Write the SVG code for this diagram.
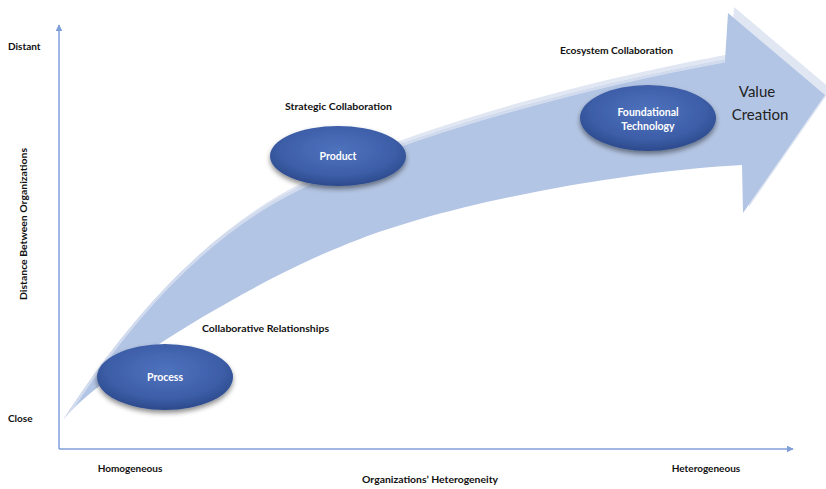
<svg xmlns="http://www.w3.org/2000/svg" width="826" height="489" viewBox="0 0 826 489">
<style>
.lbl{font-family:Lato,"Liberation Sans",sans-serif;font-weight:bold;font-size:10px;fill:#111}
.nd{font-family:Lato,"Liberation Sans",sans-serif;font-weight:bold;font-size:10.5px;fill:#fff}
.big{font-family:Lato,"Liberation Sans",sans-serif;font-size:15px;fill:#222}
.axis{stroke:#7f9fd8;stroke-width:1.5;fill:none}
</style>
<defs>
<radialGradient id="eg" cx="0.5" cy="0.4" r="0.6">
<stop offset="0" stop-color="#4f72bd"/>
<stop offset="0.7" stop-color="#3d5ea8"/>
<stop offset="1" stop-color="#2c4a8c"/>
</radialGradient>
<filter id="sh" x="-20%" y="-20%" width="140%" height="150%">
<feDropShadow dx="0" dy="3" stdDeviation="2.5" flood-color="#000" flood-opacity="0.45"/>
</filter>
<path id="arrowShape" d="M63,420 C125,325 200,235 300,187 C406,131 607,81 725,60 L728,13 L825,95 L743,213 L742,165 C640,170 450,200 340,247 C256,280 100,373 63,420 Z"/>
<clipPath id="ac"><use href="#arrowShape"/></clipPath>
<marker id="ah" viewBox="0 0 10 10" refX="9" refY="5" markerWidth="7" markerHeight="7" orient="auto" markerUnits="userSpaceOnUse">
<path d="M0,0 L10,5 L0,10 Z" fill="#7f9fd8"/>
</marker>
</defs>
<rect width="826" height="489" fill="#fff"/>
<g id="connectors">
<line class="axis" x1="59" y1="449" x2="59" y2="25" marker-end="url(#ah)"/>
<line class="axis" x1="59" y1="449" x2="793" y2="449" marker-end="url(#ah)"/>
</g>
<g id="big-arrow">
<use href="#arrowShape" transform="translate(6,-6)" fill="#e0e7f3"/>
<use href="#arrowShape" fill="#b3c5e4"/>
<path d="M63,420 C125,325 200,235 300,187 C406,131 607,81 725,60" fill="none" stroke="#d2dcee" stroke-width="5" clip-path="url(#ac)"/>
<text class="big" x="757" y="97" text-anchor="middle">Value</text>
<text class="big" x="760" y="120" text-anchor="middle">Creation</text>
</g>
<g id="axis-labels">
<text class="lbl" x="8" y="50">Distant</text>
<text class="lbl" x="8" y="422">Close</text>
<text class="lbl" x="130" y="472" text-anchor="middle">Homogeneous</text>
<text class="lbl" x="706" y="472" text-anchor="middle">Heterogeneous</text>
<text class="lbl" x="430" y="483" text-anchor="middle" textLength="136" lengthAdjust="spacingAndGlyphs">Organizations’ Heterogeneity</text>
<text class="lbl" transform="translate(27,224) rotate(-90)" text-anchor="middle" textLength="152" lengthAdjust="spacingAndGlyphs">Distance Between Organizations</text>
</g>
<g id="node-process">
<ellipse cx="165" cy="377" rx="68" ry="33" fill="url(#eg)" filter="url(#sh)"/>
<text class="nd" x="165" y="381" text-anchor="middle">Process</text>
<text class="lbl" x="202" y="332" textLength="127" lengthAdjust="spacingAndGlyphs">Collaborative Relationships</text>
</g>
<g id="node-product">
<ellipse cx="338" cy="156" rx="68" ry="30" fill="url(#eg)" filter="url(#sh)"/>
<text class="nd" x="338" y="160" text-anchor="middle">Product</text>
<text class="lbl" x="285" y="110" textLength="107" lengthAdjust="spacingAndGlyphs">Strategic Collaboration</text>
</g>
<g id="node-foundational">
<ellipse cx="648" cy="118" rx="68" ry="33" fill="url(#eg)" filter="url(#sh)"/>
<text class="nd" x="648" y="116" text-anchor="middle" font-size="10">Foundational</text>
<text class="nd" x="648" y="130" text-anchor="middle" font-size="10">Technology</text>
<text class="lbl" x="560" y="54" textLength="113" lengthAdjust="spacingAndGlyphs">Ecosystem Collaboration</text>
</g>
</svg>
